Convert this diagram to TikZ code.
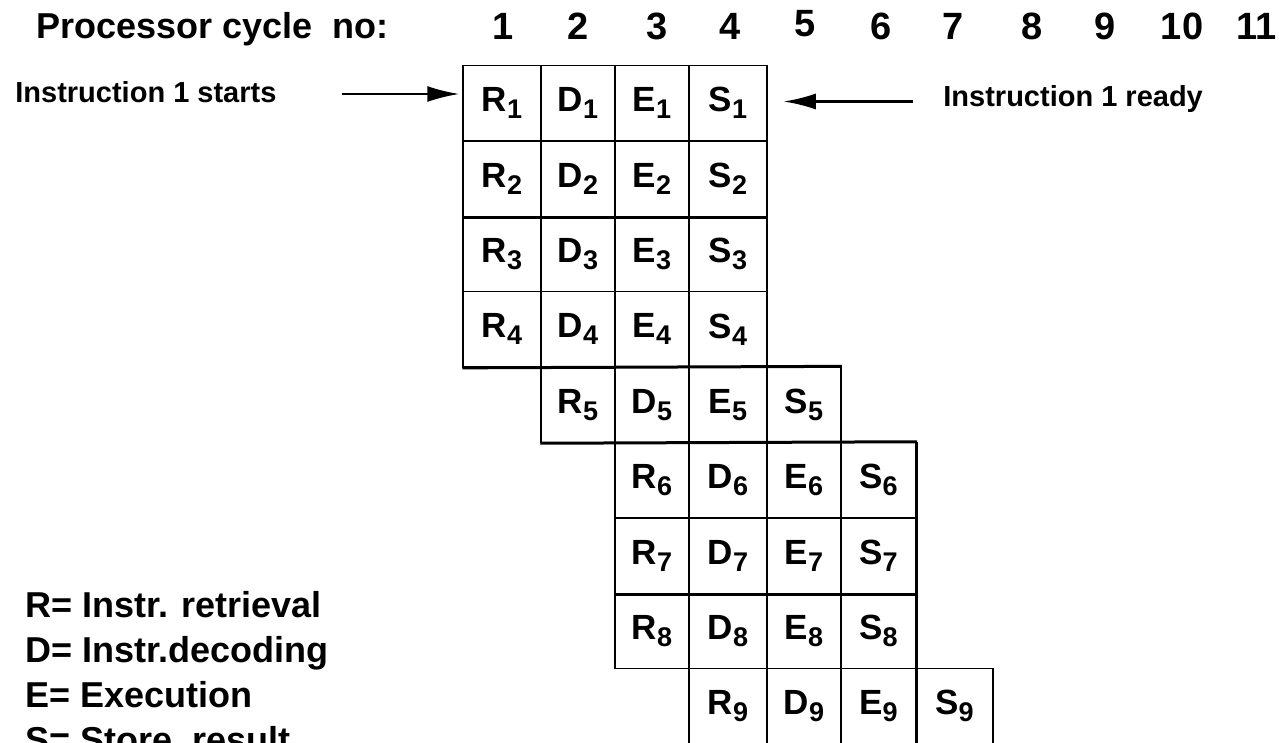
\documentclass[tikz,border=0pt]{standalone}
\usepackage{fontspec}
\setmainfont{Liberation Sans}
\usetikzlibrary{arrows.meta}
\newcommand{\stage}[2]{#1\raisebox{-3.5pt}{\fontsize{13.5}{13.5}\selectfont #2}}
\begin{document}
\begin{tikzpicture}[
        x=0.5pt,y=-0.5pt,
        csty/.style={
            draw,rectangle,
            line width=0.75pt,
            inner sep=0pt,
            minimum height=37.7pt,
            font=\fontsize{17.5}{20}\selectfont\bfseries,
        },
        hsty/.style={font=\fontsize{18}{21}\selectfont\bfseries,inner sep=0pt,anchor=base west},
        nsty/.style={font=\fontsize{19}{22}\selectfont\bfseries,inner sep=0pt,anchor=base},
        lsty/.style={font=\fontsize{14.5}{17}\selectfont\bfseries,inner sep=0pt,anchor=base west},
        gsty/.style={font=\fontsize{18}{21}\selectfont\bfseries,inner sep=0pt,anchor=base west},
        thk/.style={line width=1.5pt},
        arr/.style={line width=1.1pt,-{Latex[length=16pt,width=8pt]}},
    ]
    \useasboundingbox (0,0) rectangle (1279,743);
    \def\colx{{463,541,615,689,767,841,916,993}}

    \node[hsty] at (36,39) (title) {Processor cycle \ no:};
    \foreach \n/\ox/\oy in {1/503/40,2/578/40,3/657/40,4/730/40,5/805/37,6/881/40,
                            7/953/40,8/1032/40,9/1105/40,10/1182/40,11/1257/40}{
        \node[nsty] at (\ox,\oy) (cyc\n) {\n};
    }

    \foreach \i/\c in {1/0,2/0,3/0,4/0,5/1,6/2,7/2,8/2,9/3}{
        \foreach \s [count=\k from 0] in {R,D,E,S}{
            \pgfmathtruncatemacro\ca{\c+\k}
            \pgfmathtruncatemacro\cb{\c+\k+1}
            \pgfmathsetmacro\xl{\colx[\ca]}
            \pgfmathsetmacro\xr{\colx[\cb]}
            \pgfmathsetmacro\w{(\xr-\xl)*0.5}
            \node[csty,minimum width=\w pt] at ({(\xl+\xr)/2},{65.5+75.4*(\i-0.5)}) (\s\i) {\stage{\s}{\i}};
        }
    }
    \draw[thk] (R2.south west) -- (S2.south east);
    \draw[thk] (R4.south west) -- (S5.north east);
    \draw[thk] (R5.south west) -- (S6.north east);
    \draw[thk] (R7.south west) -- (S7.south east);
    \draw[thk] (S6.north east) -- (E9.south east);

    \node[lsty] at (15,103) (starts) {Instruction 1 starts};
    \node[lsty] at (943,107) (ready) {Instruction 1 ready};
    \coordinate (startsTail) at (342,94);
    \coordinate (readyTail) at (913,101.5);
    \draw[arr] (startsTail) -- ([xshift=-1.5pt]startsTail -| R1.west);
    \draw[arr] (readyTail) -- ([xshift=8pt]readyTail -| S1.east);

    \node[gsty] at (25,617) (legR) {R= Instr. retrieval};
    \node[gsty] at (25,662) (legD) {D= Instr.decoding};
    \node[gsty] at (25,707) (legE) {E= Execution};
    \node[gsty] at (25,752) (legS) {S= Store \ result};

\end{tikzpicture}
\end{document}
